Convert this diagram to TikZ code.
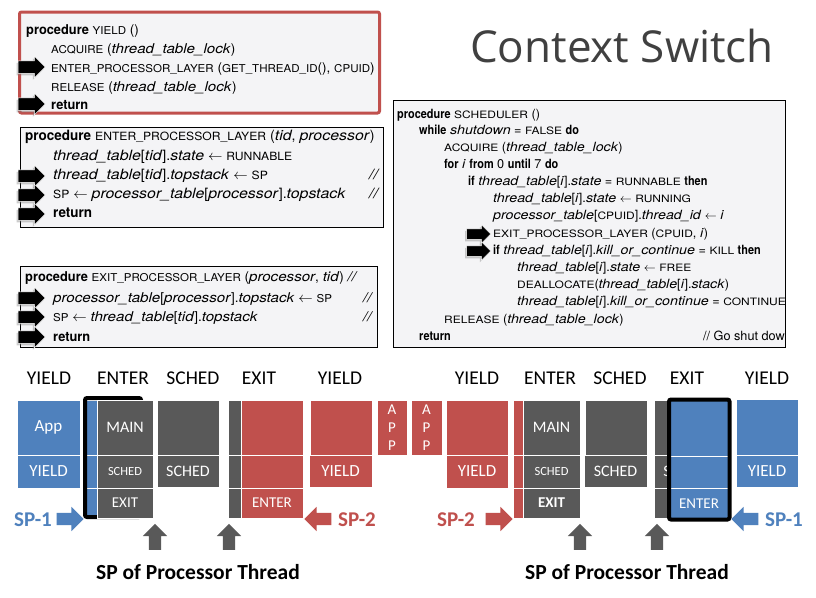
\documentclass[tikz,border=0pt]{standalone}
\usepackage{fontspec}
\usetikzlibrary{shapes.arrows,shadows}
\setmainfont{TeX Gyre Heros}[BoldFeatures={FakeStretch=0.95},ItalicFeatures={FakeStretch=1.12}]
\newfontfamily\schedf{TeX Gyre Heros}[BoldFeatures={FakeStretch=0.86},ItalicFeatures={FakeStretch=1.12}]
\newfontfamily\kwf{TeX Gyre Heros}[Scale=0.8,FakeStretch=1.07]
\newfontfamily\kwsf{TeX Gyre Heros}[Scale=0.8,FakeStretch=1.18]
\newfontfamily\carl{Carlito}
\newfontfamily\titlef{Open Sans}
\newcommand\kw[1]{{\kwf #1}}
\definecolor{blueC}{HTML}{4F81BD}
\definecolor{redC}{HTML}{C0504D}
\definecolor{grayC}{HTML}{595959}
\definecolor{boxC}{HTML}{F4F4F6}
\definecolor{titleC}{HTML}{404040}
\tikzset{
  codebox/.style={anchor=north west, inner sep=0pt, outer sep=0pt, fill=boxC},
  code/.style={anchor=base west, inner sep=0pt, font=\fontsize{13.5}{16}\selectfont},
  codeB/.style={code, font=\fontsize{14.2}{17}\selectfont},
  scode/.style={anchor=base west, inner sep=0pt, font=\schedf\fontsize{12.7}{15}\selectfont\let\kwf\kwsf},
  % block arrows: the empty text box sets the shaft thickness
  blockarrow/.style={single arrow, inner sep=0pt, text width=#1, text height=#1, text depth=0pt},
  carrow/.style={blockarrow=12pt, fill=black, draw=white, line width=0.5pt,
    minimum height=27pt, single arrow head extend=4.5pt,
    drop shadow={opacity=0.4, shadow xshift=-1.5pt, shadow yshift=-2pt}},
  sarrow/.style={blockarrow=10pt, fill=black, draw=white, line width=0.5pt,
    minimum height=24pt, single arrow head extend=4pt,
    drop shadow={opacity=0.4, shadow xshift=-1.5pt, shadow yshift=-2pt}},
  stk/.style={anchor=north west, inner sep=0pt, outer sep=0pt, draw=white, line width=0.8pt,
    text=white, drop shadow={opacity=0.25, shadow xshift=1.2pt, shadow yshift=-1.2pt}},
  bl/.style={stk, fill=blueC}, rd/.style={stk, fill=redC}, gy/.style={stk, fill=grayC},
  fA/.style={font=\carl\fontsize{17}{17}\selectfont},
  fM/.style={font=\carl\fontsize{16}{16}\selectfont},
  fS/.style={font=\carl\fontsize{12.5}{12.5}\selectfont},
  fE/.style={font=\carl\fontsize{15}{15}\selectfont},
  colname/.style={anchor=base, inner sep=0pt, font=\carl\fontsize{19.5}{20}\selectfont},
  frame/.style={draw=black, line width=4pt, rounded corners=2pt},
  sparrow/.style={blockarrow=12pt, minimum height=27pt, single arrow head extend=6pt},
  splabel/.style={anchor=base, inner sep=0pt, font=\carl\bfseries\fontsize{21}{21}\selectfont},
  uparrow/.style={blockarrow=12pt, fill=grayC, shape border rotate=90,
    minimum height=26pt, single arrow head extend=6pt},
  sptlabel/.style={anchor=base, inner sep=0pt, font=\carl\bfseries\fontsize{21.5}{22}\selectfont}
}
% block: style, name, x, y, width, height, text
\newcommand\blk[7]{\node[#1, minimum width=#5pt, minimum height=#6pt] (#2) at (#3,#4) {#7};}
\begin{document}
\begin{tikzpicture}[x=1pt,y=-1pt]
\useasboundingbox (0,0) rectangle (816,597);
\fill[white] (0,0) rectangle (816,597);

% ---------- title ----------
\node[anchor=base west, inner sep=0pt, font=\titlef\fontsize{44}{44}\selectfont, text=titleC]
  (title) at (470,62) {Context Switch};

% ---------- procedure YIELD ----------
\node[codebox, draw=redC, line width=3pt, rounded corners=2pt, minimum width=360pt, minimum height=101pt]
  (boxY) at (19.5,12) {};
\node[code] (y1) at (26,34.5) {\textbf{procedure} \kw{YIELD} ()};
\node[code] (y2) at (51,53) {\kw{ACQUIRE} (\textit{thread\_table\_lock})};
\node[code] (y3) at (51,72) {\kw{ENTER\_PROCESSOR\_LAYER} (\kw{GET\_THREAD\_ID}(), \kw{CPUID})};
\node[code] (y4) at (51,91) {\kw{RELEASE} (\textit{thread\_table\_lock})};
\node[code] (y5) at (51,109) {\textbf{return}};
\node[carrow] (ay3) at (28.5,67) {};
\node[carrow] (ay5) at (28.5,104) {};

% ---------- procedure ENTER_PROCESSOR_LAYER ----------
\node[codebox, draw=black, line width=1pt, minimum width=363pt, minimum height=100pt]
  (boxE) at (20,127) {};
\node[codeB] (e1) at (25,140) {\textbf{procedure} \kw{ENTER\_PROCESSOR\_LAYER} (\textit{tid}, \textit{processor})};
\node[codeB] (e2) at (53,160) {\textit{thread\_table}[\textit{tid}].\textit{state} $\leftarrow$ \kw{RUNNABLE}};
\node[codeB] (e3) at (53,179) {\textit{thread\_table}[\textit{tid}].\textit{topstack} $\leftarrow$ \kw{SP}};
\node[codeB] (e3c) at (369,179) {\textit{//}};
\node[codeB] (e4) at (53,198) {\kw{SP} $\leftarrow$ \textit{processor\_table}[\textit{processor}].\textit{topstack}};
\node[codeB] (e4c) at (369,198) {\textit{//}};
\node[codeB] (e5) at (53,217) {\textbf{return}};
\node[carrow] (ae3) at (28.5,176) {};
\node[carrow] (ae4) at (28.5,195) {};
\node[carrow] (ae5) at (28.5,214) {};

% ---------- procedure EXIT_PROCESSOR_LAYER ----------
\node[codebox, draw=black, line width=1pt, minimum width=357pt, minimum height=81pt]
  (boxX) at (20,266) {};
\node[code] (x1) at (25,281) {\textbf{procedure} \kw{EXIT\_PROCESSOR\_LAYER} (\textit{processor}, \textit{tid}) \textit{//}};
\node[code] (x2) at (53,302) {\textit{processor\_table}[\textit{processor}].\textit{topstack} $\leftarrow$ \kw{SP}};
\node[code] (x2c) at (363,302) {\textit{//}};
\node[code] (x3) at (53,321) {\kw{SP} $\leftarrow$ \textit{thread\_table}[\textit{tid}].\textit{topstack}};
\node[code] (x3c) at (363,321) {\textit{//}};
\node[code] (x4) at (53,341) {\textbf{return}};
\node[carrow] (ax2) at (28.5,298) {};
\node[carrow] (ax3) at (28.5,317) {};
\node[carrow] (ax4) at (28.5,337) {};

% ---------- procedure SCHEDULER ----------
\node[codebox, draw=black, line width=1pt, minimum width=392pt, minimum height=247pt]
  (boxS) at (393,100) {};
\node[scode] (s1) at (397,118) {\textbf{procedure} \kw{SCHEDULER} ()};
\node[scode] (s2) at (419,134) {\textbf{while} \textit{shutdown} = \kw{FALSE} \textbf{do}};
\node[scode] (s3) at (444,151) {\kw{ACQUIRE} (\textit{thread\_table\_lock})};
\node[scode] (s4) at (444,168) {\textbf{for} \textit{i} \textbf{from} 0 \textbf{until} 7 \textbf{do}};
\node[scode] (s5) at (468,185) {\textbf{if} \textit{thread\_table}[\textit{i}].\textit{state} = \kw{RUNNABLE} \textbf{then}};
\node[scode] (s6) at (493,202) {\textit{thread\_table}[\textit{i}].\textit{state} $\leftarrow$ \kw{RUNNING}};
\node[scode] (s7) at (493,219) {\textit{processor\_table}[\kw{CPUID}].\textit{thread\_id} $\leftarrow$ \textit{i}};
\node[scode] (s8) at (493,237) {\kw{EXIT\_PROCESSOR\_LAYER} (\kw{CPUID}, \textit{i})};
\node[scode] (s9) at (493,254) {\textbf{if} \textit{thread\_table}[\textit{i}].\textit{kill\_or\_continue} = \kw{KILL} \textbf{then}};
\node[scode] (s10) at (517,271) {\textit{thread\_table}[\textit{i}].\textit{state} $\leftarrow$ \kw{FREE}};
\node[scode] (s11) at (517,288) {\kw{DEALLOCATE}(\textit{thread\_table}[\textit{i}].\textit{stack})};
\node[scode] (s12) at (517,305) {\textit{thread\_table}[\textit{i}].\textit{kill\_or\_continue} = \kw{CONTINUE}};
\node[scode] (s13) at (444,323) {\kw{RELEASE} (\textit{thread\_table\_lock})};
\node[scode] (s14) at (419,340) {\textbf{return}};
\node[scode, anchor=base east] (s14c) at (785,340) {// Go shut dow};
\node[sarrow] (as8) at (476,234) {};
\node[sarrow] (as9) at (476,251) {};

% ---------- column names ----------
\node[colname] (n1) at (49,384.5) {YIELD};
\node[colname] (n2) at (123,384.5) {ENTER};
\node[colname] (n3) at (193,384.5) {SCHED};
\node[colname] (n4) at (259,384.5) {EXIT};
\node[colname] (n5) at (340,384.5) {YIELD};
\node[colname] (n6) at (477,384.5) {YIELD};
\node[colname] (n7) at (550,384.5) {ENTER};
\node[colname] (n8) at (620,384.5) {SCHED};
\node[colname] (n9) at (687,384.5) {EXIT};
\node[colname] (n10) at (767,384.5) {YIELD};

% ---------- stacks ----------
% thread 1 in YIELD
\blk{bl,fA}{c1a}{17}{400}{63}{55}{App}
\blk{bl,fA}{c1b}{17}{455}{63}{33}{YIELD}
% ENTER: processor stack over thread 1
\blk{bl}{c2u1}{85}{400}{56}{55}{}
\blk{bl}{c2u2}{85}{455}{56}{33}{}
\blk{bl}{c2u3}{85}{488}{56}{30}{}
\draw[frame] (85,398) rectangle (141,517);
\blk{gy,fM}{c2a}{97}{400}{56}{55}{MAIN}
\blk{gy,fS}{c2b}{97}{455}{56}{33}{SCHED}
\blk{gy,fE}{c2c}{97}{488}{56}{30}{EXIT}
% SCHED
\blk{gy}{c3a}{157}{400}{62}{55}{}
\blk{gy,fM}{c3b}{157}{455}{62}{32}{SCHED}
% EXIT: thread 2 over processor stack
\blk{gy}{c4u1}{228}{400}{60}{55}{}
\blk{gy}{c4u2}{228}{455}{60}{33}{}
\blk{gy}{c4u3}{228}{488}{60}{30}{}
\blk{rd}{c4a}{241}{400}{62}{55}{}
\blk{rd}{c4b}{241}{455}{62}{33}{}
\blk{rd,fE}{c4c}{241}{488}{62}{30}{ENTER}
% thread 2 in YIELD
\blk{rd}{c5a}{310}{400}{62}{55}{}
\blk{rd,fA}{c5b}{309}{455}{63}{32}{YIELD}
% application frames
\node[rd, minimum width=30pt, minimum height=55pt, align=center,
  font=\carl\fontsize{15}{18}\selectfont] (app1) at (377,400) {A\\P\\P};
\node[rd, minimum width=31pt, minimum height=55pt, align=center,
  font=\carl\fontsize{15}{18}\selectfont] (app2) at (411,400) {A\\P\\P};
% thread 2 in YIELD again
\blk{rd}{c6a}{446}{400}{62}{55}{}
\blk{rd,fA}{c6b}{446}{455}{62}{33}{YIELD}
% ENTER: processor stack over thread 2
\blk{rd}{c7u1}{513}{400}{57}{55}{}
\blk{rd}{c7u2}{513}{455}{57}{33}{}
\blk{rd}{c7u3}{513}{488}{57}{30}{}
\blk{gy,fM}{c7a}{523}{400}{57}{55}{MAIN}
\blk{gy,fS}{c7b}{523}{455}{57}{33}{SCHED}
\blk{gy,fE}{c7c}{523}{488}{57}{30}{\textbf{EXIT}}
% SCHED
\blk{gy}{c8a}{585}{400}{62}{55}{}
\blk{gy,fM}{c8b}{584}{455}{63}{32}{SCHED}
% EXIT: thread 1 over processor stack
\blk{gy}{c9u1}{654}{400}{62}{55}{}
\blk{gy,fM}{c9u2}{654}{455}{62}{33}{SCHED}
\blk{gy}{c9u3}{654}{488}{62}{30}{}
\blk{bl}{c9a}{669}{400}{60}{56}{}
\blk{bl}{c9b}{669}{456}{60}{32}{}
\blk{bl,fE}{c9c}{669}{488}{60}{31}{ENTER}
\draw[frame] (669,399.5) rectangle (729.5,519.5);
% thread 1 in YIELD
\blk{bl}{c10a}{736}{399}{62}{56}{}
\blk{bl,fA}{c10b}{736}{455}{62}{32}{YIELD}

% ---------- stack pointers ----------
\node[splabel, text=blueC] (sp1a) at (33,526) {SP-1};
\node[sparrow, fill=blueC] (sp1aArrow) at (67,519) {};
\node[sparrow, fill=redC, shape border rotate=180] (sp2aArrow) at (321,519) {};
\node[splabel, text=redC] (sp2a) at (357,526) {SP-2};
\node[splabel, text=redC] (sp2b) at (456,526) {SP-2};
\node[sparrow, fill=redC] (sp2bArrow) at (496,519) {};
\node[sparrow, fill=blueC, shape border rotate=180] (sp1bArrow) at (748,519) {};
\node[splabel, text=blueC] (sp1b) at (784,526) {SP-1};

\node[uparrow] (u1) at (155,540) {};
\node[uparrow] (u2) at (229,540) {};
\node[uparrow] (u3) at (580,540) {};
\node[uparrow] (u4) at (657,540) {};
\node[sptlabel] (spt1) at (198,579) {SP of Processor Thread};
\node[sptlabel] (spt2) at (627,579) {SP of Processor Thread};
\end{tikzpicture}
\end{document}
